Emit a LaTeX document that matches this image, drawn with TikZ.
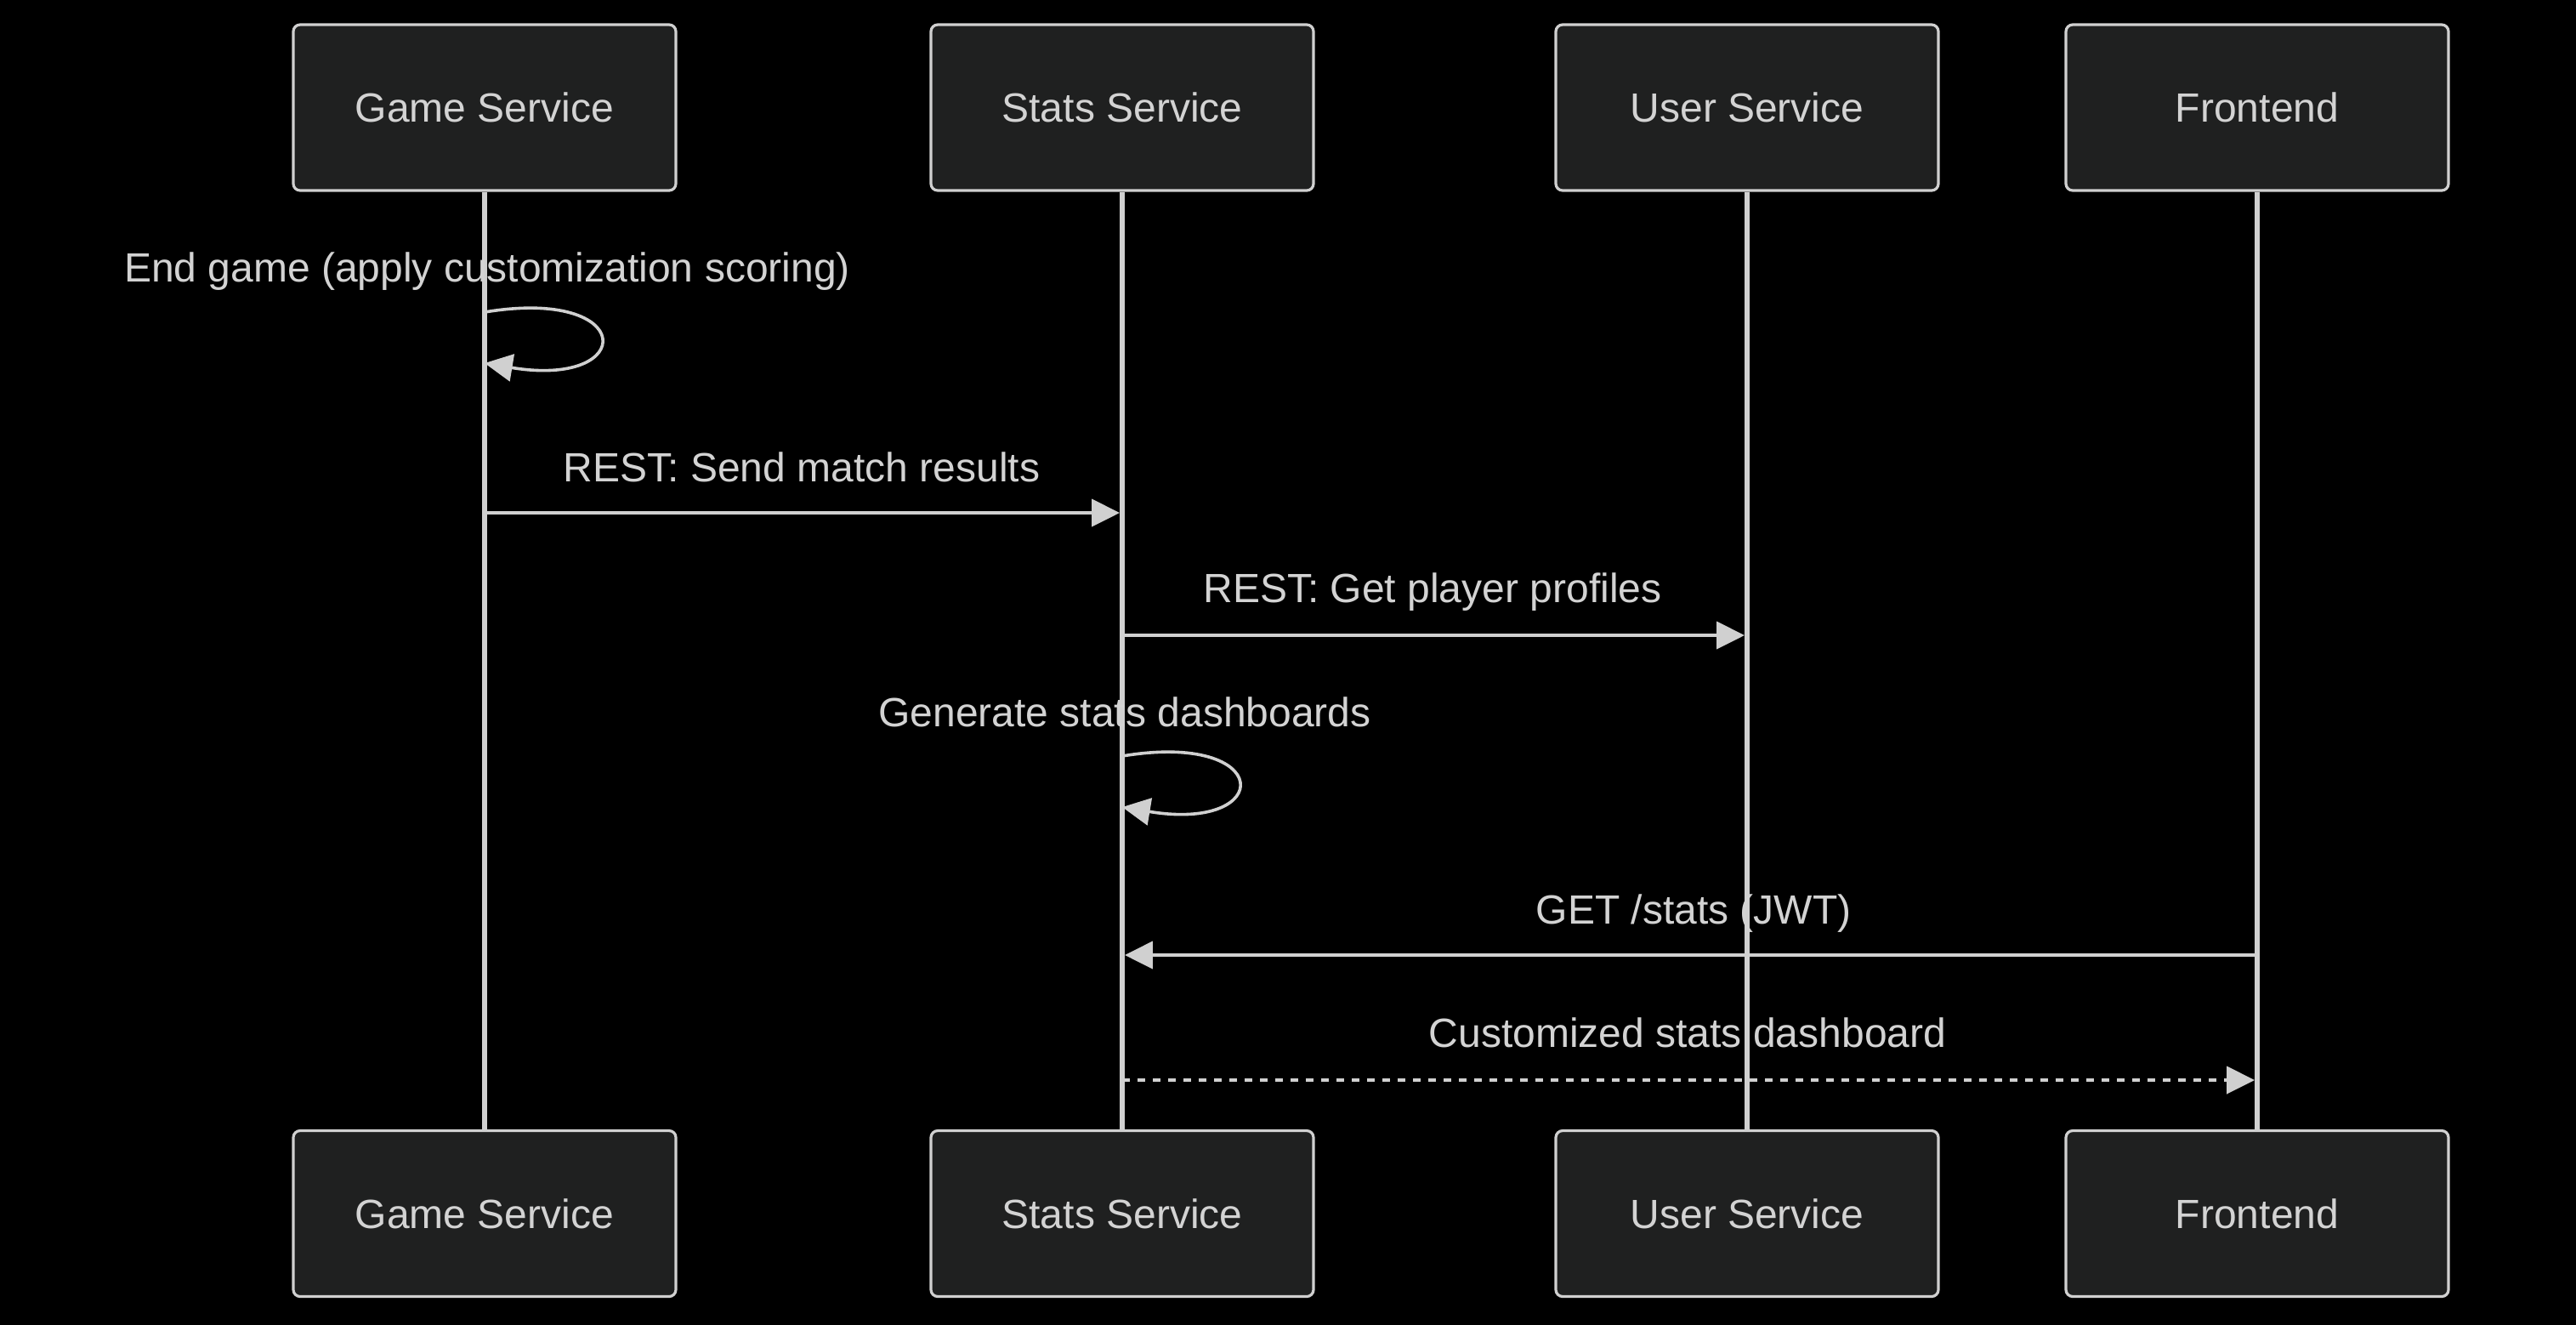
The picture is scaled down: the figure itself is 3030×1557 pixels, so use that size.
\documentclass[tikz,border=0pt]{standalone}
\usepackage{fontspec}
\setmainfont{Liberation Sans}
\usetikzlibrary{arrows.meta}
\definecolor{boxfill}{HTML}{1F2020}
\definecolor{fg}{HTML}{D0D0D0}
\definecolor{txt}{HTML}{D3D3D3}
\begin{document}
\begin{tikzpicture}[x=0.25pt,y=-0.25pt,
  actor/.style={draw=fg, line width=0.8pt, fill=boxfill, rounded corners=2pt,
    minimum width=112.5pt, minimum height=48.75pt, inner sep=0pt, text=txt,
    font=\fontsize{12}{14}\selectfont},
  life/.style={draw=fg, line width=1.35pt},
  msg/.style={draw=fg, line width=0.9pt, -{Triangle[length=8.2pt,width=8pt]}},
  dmsg/.style={msg, dash pattern=on 2.25pt off 2.25pt},
  lbl/.style={text=txt, inner sep=0pt, font=\fontsize{12}{14}\selectfont}]
\useasboundingbox (0,0) rectangle (3030,1557);
\fill[black] (-20,-20) rectangle (3050,1577);
% actors
\node[actor] (gt) at (570,126.5) {Game Service};
\node[actor] (st) at (1320,126.5) {Stats Service};
\node[actor] (ut) at (2055,126.5) {User Service};
\node[actor] (ft) at (2655,126.5) {Frontend};
\node[actor] (gb) at (570,1427) {Game Service};
\node[actor] (sb) at (1320,1427) {Stats Service};
\node[actor] (ub) at (2055,1427) {User Service};
\node[actor] (fb) at (2655,1427) {Frontend};
% lifelines
\draw[life] (gt.south) -- (gb.north);
\draw[life] (st.south) -- (sb.north);
\draw[life] (ut.south) -- (ub.north);
\draw[life] (ft.south) -- (fb.north);
% coordinates on lifelines
\coordinate (l1a) at (570,367);
\coordinate (l1b) at (570,427);
\coordinate (m1a) at (570,603);
\coordinate (m1b) at (1317,603);
\coordinate (m2a) at (1320,747);
\coordinate (m2b) at (2052,747);
\coordinate (l2a) at (1320,889);
\coordinate (l2b) at (1320,949);
\coordinate (m4a) at (2655,1123);
\coordinate (m4b) at (1323,1123);
\coordinate (m5a) at (1320,1270);
\coordinate (m5b) at (2652,1270);
% messages
\draw[msg] (l1a) .. controls (750,337) and (750,457) .. (l1b);
\draw[msg] (m1a) -- (m1b);
\draw[msg] (m2a) -- (m2b);
\draw[msg] (l2a) .. controls (1500,859) and (1500,979) .. (l2b);
\draw[msg] (m4a) -- (m4b);
\draw[dmsg] (m5a) -- (m5b);
% labels
\node[lbl] (t1) at (573,319) {End game (apply customization scoring)};
\node[lbl] (t2) at (943,549) {REST: Send match results};
\node[lbl] (t3) at (1685,696) {REST: Get player profiles};
\node[lbl] (t4) at (1323,837) {Generate stats dashboards};
\node[lbl] (t5) at (1992,1074) {GET /stats (JWT)};
\node[lbl] (t6) at (1985,1214) {Customized stats dashboard};
\end{tikzpicture}
\end{document}
